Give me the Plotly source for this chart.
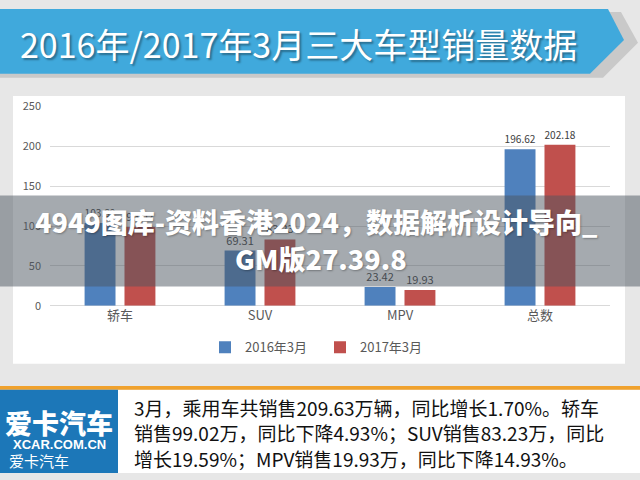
import plotly.graph_objects as go

categories = ["轿车", "SUV", "MPV", "总数"]
series_2016 = [103.89, 69.31, 23.42, 196.62]
series_2017 = [99.02, 83.23, 19.93, 202.18]
series_names = ["2016年3月", "2017年3月"]
y_ticks = [0, 50, 100, 150, 200, 250]

title_text = "2016年/2017年3月三大车型销量数据"
overlay_lines = ["4949图库-资料香港2024，数据解析设计导向_", "GM版27.39.8"]
summary_lines = [
    "3月，乘用车共销售209.63万辆，同比增长1.70%。轿车",
    "销售99.02万，同比下降4.93%；SUV销售83.23万，同比",
    "增长19.59%；MPV销售19.93万，同比下降14.93%。",
]

W, H = 640, 480
CJK = "Noto Sans CJK SC, Noto Sans, sans-serif"


def px(x):
    return x / W


def py(y):
    return 1 - y / H


def path(points):
    s = "M " + " L ".join(f"{px(x):.5f},{py(y):.5f}" for x, y in points) + " Z"
    return s


fig = go.Figure()
fig.add_trace(go.Bar(
    x=categories, y=series_2016, name=series_names[0],
    marker=dict(color="#4f81bd", line=dict(width=0)),
    text=[f"{v:.2f}" for v in series_2016], textposition="outside",
    textfont=dict(size=11, color="#404040", family=CJK), cliponaxis=False,
))
fig.add_trace(go.Bar(
    x=categories, y=series_2017, name=series_names[1],
    marker=dict(color="#c0504d", line=dict(width=0)),
    text=[f"{v:.2f}" for v in series_2017], textposition="outside",
    textfont=dict(size=11, color="#404040", family=CJK), cliponaxis=False,
))

shapes = []
# chart white panel
shapes.append(dict(type="rect", xref="paper", yref="paper", x0=px(13), x1=px(625),
                   y0=py(367), y1=py(90), fillcolor="white", line=dict(width=0), layer="below"))
# banner shadow + banner
shapes.append(dict(type="path", xref="paper", yref="paper",
                   path=path([(0, 3), (621, 3), (638, 35), (603, 71), (0, 71)]),
                   fillcolor="#c9c9c9", line=dict(width=0), layer="below"))
shapes.append(dict(type="path", xref="paper", yref="paper",
                   path=path([(0, 0), (608, 0), (624, 32), (590, 67), (0, 67)]),
                   fillcolor="#40a9dc", line=dict(width=0), layer="below"))
# overlay band
shapes.append(dict(type="rect", xref="paper", yref="paper", x0=0, x1=1,
                   y0=py(287), y1=py(193), fillcolor="rgba(75,85,95,0.5)",
                   line=dict(width=0), layer="above"))
# bottom section
shapes.append(dict(type="rect", xref="paper", yref="paper", x0=0, x1=1,
                   y0=0, y1=py(394), fillcolor="white", line=dict(width=0), layer="above"))
shapes.append(dict(type="rect", xref="paper", yref="paper", x0=0, x1=1,
                   y0=py(394), y1=py(390), fillcolor="#f0a22e", line=dict(width=0), layer="above"))
shapes.append(dict(type="rect", xref="paper", yref="paper", x0=0, x1=px(118),
                   y0=0, y1=py(394), fillcolor="#1c77b8", line=dict(width=0), layer="above"))

annotations = []
annotations.append(dict(text=title_text, xref="paper", yref="paper", x=px(18), y=py(36),
                        xanchor="left", yanchor="middle", showarrow=False,
                        font=dict(size=34, color="white", family=CJK,
                                  shadow="2px 2px 2px rgba(0,0,0,0.35)")))
annotations.append(dict(text=overlay_lines[0], xref="paper", yref="paper", x=px(316), y=py(220),
                        xanchor="center", yanchor="middle", showarrow=False,
                        font=dict(size=27, color="white", family=CJK, weight=900,
                                  shadow="1px 1px 2px rgba(0,0,0,0.3)")))
annotations.append(dict(text=overlay_lines[1], xref="paper", yref="paper", x=px(321), y=py(258),
                        xanchor="center", yanchor="middle", showarrow=False,
                        font=dict(size=27, color="white", family=CJK, weight=900,
                                  shadow="1px 1px 2px rgba(0,0,0,0.3)")))
# logo
annotations.append(dict(text="爱卡汽车", xref="paper", yref="paper", x=px(59), y=py(428),
                        xanchor="center", yanchor="middle", showarrow=False,
                        font=dict(size=27, color="white", family=CJK, weight=900)))
annotations.append(dict(text="XCAR.COM.CN", xref="paper", yref="paper", x=px(59), y=py(451),
                        xanchor="center", yanchor="middle", showarrow=False,
                        font=dict(size=13, color="white", family="Liberation Sans, Arial", weight="bold")))
annotations.append(dict(text="爱卡汽车", xref="paper", yref="paper", x=px(7), y=py(467),
                        xanchor="left", yanchor="middle", showarrow=False,
                        font=dict(size=15, color="white", family=CJK)))
for i, line in enumerate(summary_lines):
    annotations.append(dict(text=line, xref="paper", yref="paper", x=px(132), y=py(412 + 26.5 * i),
                            xanchor="left", yanchor="middle", showarrow=False,
                            font=dict(size=19, color="#111111", family=CJK)))

fig.update_layout(
    width=W, height=H, margin=dict(l=0, r=0, t=0, b=0),
    paper_bgcolor="#e7e7e7", plot_bgcolor="rgba(0,0,0,0)",
    barmode="group", bargap=0.43, bargroupgap=0.225,
    font=dict(family=CJK, color="#595959"),
    xaxis=dict(domain=[px(50), px(610)], showgrid=False, showline=False, ticks="",
               tickfont=dict(size=13, color="#595959", family=CJK), fixedrange=True),
    yaxis=dict(domain=[py(307), py(101)], range=[0, 250], tickvals=y_ticks,
               showgrid=True, gridcolor="#d9d9d9", gridwidth=1, zeroline=True,
               zerolinecolor="#d9d9d9", zerolinewidth=1, showline=False, ticks="",
               ticklabelstandoff=8,
               tickfont=dict(size=11, color="#595959", family=CJK), fixedrange=True),
    legend=dict(orientation="h", x=0.5, xanchor="center", y=py(350), yanchor="middle",
                font=dict(size=13, color="#595959", family=CJK), bgcolor="rgba(0,0,0,0)",
                itemwidth=30, traceorder="normal", entrywidth=70, tracegroupgap=0),
    shapes=shapes, annotations=annotations, showlegend=True,
)

fig.write_html("out.html")
